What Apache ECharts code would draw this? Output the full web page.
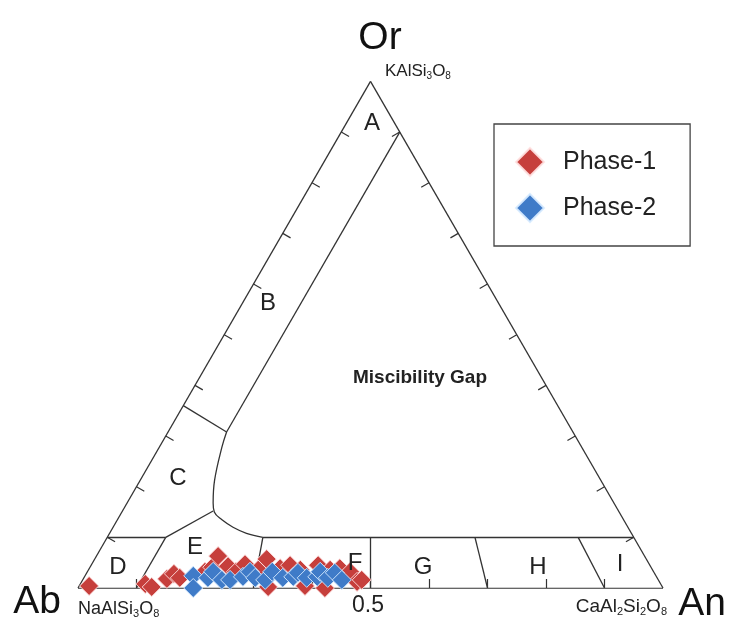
<!DOCTYPE html>
<html><head><meta charset="utf-8">
<script src="https://cdn.jsdelivr.net/npm/echarts/dist/echarts.min.js"></script>
<style>html,body{margin:0;padding:0;background:#fff}#c{width:732px;height:628px}</style>
</head><body><div id="c"></div><script>
// ---- data (percent An, percent Or; Ab = 100 - An - Or) ----
const seriesNames = ['Phase-1', 'Phase-2'];
const phase1An = [1.7, 11.1, 12.5, 14.3, 15.0, 16.4, 20.1, 20.9, 20.8, 23.5, 25.4, 26.2, 29.0, 29.4, 32.4, 32.6, 34.0, 36.2, 38.6, 38.8, 42.2, 41.3, 42.8, 44.9, 47.1, 47.7];
const phase1Or = [0.4, 0.8, 0.2, 1.8, 2.8, 2.0, 3.2, 4.1, 6.3, 4.3, 3.2, 4.7, 3.6, 5.7, 0.2, 3.9, 4.5, 3.6, 0.4, 4.5, 0.0, 3.6, 3.9, 3.2, 1.2, 1.6];
const phase2An = [18.5, 19.7, 21.2, 21.5, 23.8, 25.2, 27.1, 27.8, 29.3, 31.2, 31.6, 34.0, 35.7, 36.1, 38.1, 39.8, 39.8, 41.7, 42.4, 44.3];
const phase2Or = [2.4, 0.0, 2.0, 3.2, 1.6, 1.6, 2.2, 3.2, 2.0, 1.6, 3.2, 2.0, 2.2, 3.0, 2.0, 2.2, 3.2, 2.0, 3.0, 1.6];
const tickFractions = [0.1, 0.2, 0.3, 0.4, 0.5, 0.6, 0.7, 0.8, 0.9];
// field boundaries, [An, Or] fractions
const straightBoundaries = [
  [[0, 0], [1, 0]], [[1, 0], [0, 1]], [[0, 1], [0, 0]],
  [[0.1, 0.9], [0.1, 0.308]],
  [[0, 0.36], [0.1, 0.308]],
  [[0.266, 0.1], [0.9, 0.1]],
  [[0, 0.1], [0.1, 0.1]],
  [[0.1, 0], [0.1, 0.1]],
  [[0.1, 0.1], [0.155, 0.152]],
  [[0.3, 0], [0.266, 0.1]],
  [[0.5, 0], [0.45, 0.1]],
  [[0.7, 0], [0.6286, 0.1]],
  [[0.9, 0], [0.805, 0.1]]
];
const gapCurve = [[0.1, 0.308], [0.107, 0.278], [0.127, 0.213], [0.147, 0.168], [0.158, 0.15], [0.178, 0.135], [0.205, 0.12], [0.234, 0.108], [0.266, 0.1]];

const H = Math.sqrt(3) / 2;
function tern(an, or) { return [an + or / 2, or * H]; }

const chart = echarts.init(document.getElementById('c'), null, {renderer: 'canvas'});
const lineColor = '#333';
const L = 9 / 585;
const tickSegs = [];
tickFractions.forEach(t => {
  const l = tern(0, t); tickSegs.push({coords: [l, [l[0] + L * 0.866, l[1] - L * 0.5]]});
  const r = tern(1 - t, t); tickSegs.push({coords: [r, [r[0] - L * 0.866, r[1] - L * 0.5]]});
  const b = tern(t, 0); tickSegs.push({coords: [b, [b[0], b[1] + L]]});
});
const boundarySegs = straightBoundaries.map(s => ({coords: s.map(p => tern(p[0], p[1]))}));

function pts(anArr, orArr) { return anArr.map((a, i) => tern(a / 100, orArr[i] / 100)); }

const txt = (text, x, y, size, extra) => ({type: 'text', x: x, y: y, z: 100,
  style: Object.assign({text: text, fill: '#111', font: size + 'px "Liberation Sans", Arial, sans-serif', align: 'center', verticalAlign: 'middle'}, extra || {})});
const formula = (text, x, y, size, align) => ({type: 'text', x: x, y: y, z: 100,
  style: {text: text, fill: '#222', align: align, verticalAlign: 'middle',
    rich: {a: {fontSize: size, fontFamily: 'Liberation Sans', color: '#222', lineHeight: size + 1, verticalAlign: 'top'},
           s: {fontSize: Math.round(size * 0.6), fontFamily: 'Liberation Sans', color: '#222', lineHeight: Math.round(size * 0.6), padding: [Math.round(size * 0.45), 0, 0, 0], verticalAlign: 'bottom'}}}});

chart.setOption({
  animation: false,
  backgroundColor: '#fff',
  grid: {left: 78, top: 81.4, width: 585, bottom: 40, containLabel: false},
  xAxis: {type: 'value', min: 0, max: 1, show: false},
  yAxis: {type: 'value', min: 0, max: H, show: false},
  legend: {
    data: seriesNames, orient: 'vertical', left: 494, top: 124,
    padding: [23, 34, 23, 21], itemGap: 16, itemWidth: 28, itemHeight: 28,
    borderColor: '#444', borderWidth: 1.3, icon: 'diamond',
    textStyle: {fontSize: 25, color: '#222', fontFamily: 'Liberation Sans', padding: [0, 0, 0, 14]}
  },
  series: [
    {type: 'lines', coordinateSystem: 'cartesian2d', silent: true, data: boundarySegs,
      lineStyle: {color: lineColor, width: 1.3, opacity: 1}},
    {type: 'lines', coordinateSystem: 'cartesian2d', silent: true, data: tickSegs,
      lineStyle: {color: lineColor, width: 1.2, opacity: 1}},
    {type: 'line', silent: true, symbol: 'none', smooth: 0.4, data: gapCurve.map(p => tern(p[0], p[1])),
      lineStyle: {color: lineColor, width: 1.3}},
    {name: seriesNames[0], type: 'scatter', symbol: 'diamond', symbolSize: 19, data: pts(phase1An, phase1Or),
      itemStyle: {color: '#c63f3c', opacity: 1, borderColor: 'rgba(255,225,225,0.9)', borderWidth: 1}},
    {name: seriesNames[1], type: 'scatter', symbol: 'diamond', symbolSize: 19, data: pts(phase2An, phase2Or),
      itemStyle: {color: '#3f7bc8', opacity: 1, borderColor: 'rgba(215,235,255,0.9)', borderWidth: 1}}
  ],
  graphic: [
    txt('Or', 380, 38, 39),
    txt('Ab', 37, 602, 39),
    txt('An', 702, 604, 39),
    txt('0.5', 368, 606, 23, {fill: '#222'}),
    formula('{a|KAlSi}{s|3}{a|O}{s|8}', 385, 72, 17, 'left'),
    formula('{a|NaAlSi}{s|3}{a|O}{s|8}', 78, 610, 18, 'left'),
    formula('{a|CaAl}{s|2}{a|Si}{s|2}{a|O}{s|8}', 667, 607, 19, 'right'),
    txt('A', 372, 123, 24, {fill: '#222'}),
    txt('B', 268, 303, 24, {fill: '#222'}),
    txt('C', 178, 478, 24, {fill: '#222'}),
    txt('D', 118, 567, 24, {fill: '#222'}),
    txt('E', 195, 547, 24, {fill: '#222'}),
    txt('F', 355, 563, 24, {fill: '#222'}),
    txt('G', 423, 567, 24, {fill: '#222'}),
    txt('H', 538, 567, 24, {fill: '#222'}),
    txt('I', 620, 564, 24, {fill: '#222'}),
    txt('Miscibility Gap', 420, 378, 19, {fill: '#222', font: 'bold 19px "Liberation Sans", Arial, sans-serif'})
  ]
});
</script></body></html>
